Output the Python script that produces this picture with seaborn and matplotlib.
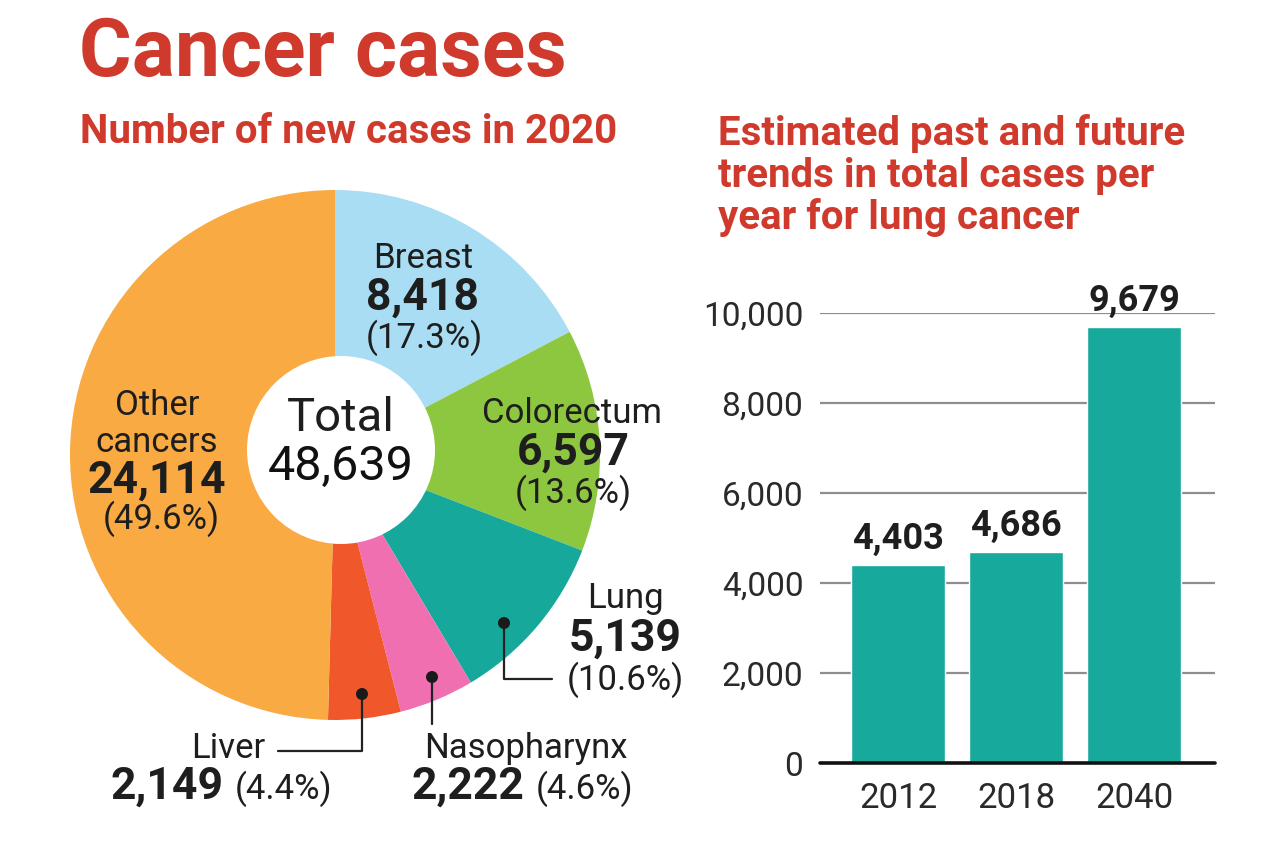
import matplotlib
matplotlib.use("Agg")
import matplotlib.pyplot as plt
from matplotlib.patches import Circle
import seaborn as sns
import pandas as pd

# ---------------- data ----------------
pie_labels = ["Breast", "Colorectum", "Lung", "Nasopharynx", "Liver", "Other cancers"]
pie_values = [8418, 6597, 5139, 2222, 2149, 24114]
pie_pcts = ["17.3%", "13.6%", "10.6%", "4.6%", "4.4%", "49.6%"]
pie_colors = ["#A9DDF3", "#8DC63F", "#16A89B", "#F06FB1", "#F0582B", "#F9AA42"]
total_cases = 48639

bar_years = ["2012", "2018", "2040"]
bar_values = [4403, 4686, 9679]
bar_color = "#17A99B"
y_ticks = [0, 2000, 4000, 6000, 8000, 10000]

title = "Cancer cases"
subtitle_left = "Number of new cases in 2020"
subtitle_right_lines = ["Estimated past and future", "trends in total cases per", "year for lung cancer"]

RED = "#CF3A2C"
DARK = "#1E1E1E"

sns.set_theme(style="white")
plt.rcParams["font.family"] = ["Roboto", "DejaVu Sans"]

W, H = 1280, 848
fig = plt.figure(figsize=(W / 100, H / 100), dpi=100)
fig.patch.set_facecolor("white")

# full-figure axes in pixel coordinates (y up)
ax = fig.add_axes([0, 0, 1, 1])


def Y(y):
    return H - y


# pie
cx, cy, R = 335, 455, 265
ax.pie(pie_values, colors=pie_colors, startangle=90, counterclock=False,
       center=(cx, Y(cy)), radius=R, frame=True,
       wedgeprops=dict(linewidth=0))
ax.set_xlim(0, W)
ax.set_ylim(0, H)
ax.set_aspect("equal")
ax.axis("off")
ax.add_patch(Circle((341, Y(450)), 94, facecolor="white", edgecolor="none", zorder=3))

# titles
ax.text(79, Y(76), title, color=RED, fontsize=58, fontweight="bold", ha="left", va="baseline")
ax.text(80, Y(143), subtitle_left, color=RED, fontsize=29, fontweight="bold", ha="left", va="baseline")
for line, base in zip(subtitle_right_lines, [145, 187, 229]):
    ax.text(718, Y(base), line, color=RED, fontsize=29, fontweight="bold", ha="left", va="baseline")


def fmt(v):
    return f"{v:,}"


REG = 25
BOLD = 32

# Total
ax.text(341, Y(431), "Total", fontsize=34, color=DARK, ha="center", va="baseline", zorder=4)
ax.text(341, Y(480), fmt(total_cases), fontsize=35, color="#111111", ha="center", va="baseline", zorder=4)

# Breast
ax.text(423, Y(268), pie_labels[0], fontsize=REG, color=DARK, ha="center", va="baseline")
ax.text(423, Y(310), fmt(pie_values[0]), fontsize=BOLD, fontweight="bold", color=DARK, ha="center", va="baseline")
ax.text(424, Y(348), f"({pie_pcts[0]})", fontsize=REG, color=DARK, ha="center", va="baseline")

# Colorectum
ax.text(572, Y(423), pie_labels[1], fontsize=REG, color=DARK, ha="center", va="baseline")
ax.text(573, Y(465), fmt(pie_values[1]), fontsize=BOLD, fontweight="bold", color=DARK, ha="center", va="baseline")
ax.text(573, Y(503), f"({pie_pcts[1]})", fontsize=REG, color=DARK, ha="center", va="baseline")

# Other cancers
ax.text(157, Y(415), "Other", fontsize=REG, color=DARK, ha="center", va="baseline")
ax.text(157, Y(452), "cancers", fontsize=REG, color=DARK, ha="center", va="baseline")
ax.text(157, Y(493), fmt(pie_values[5]), fontsize=BOLD, fontweight="bold", color=DARK, ha="center", va="baseline")
ax.text(161, Y(529), f"({pie_pcts[5]})", fontsize=REG, color=DARK, ha="center", va="baseline")

# Lung
ax.text(625, Y(608), pie_labels[2], fontsize=REG, color=DARK, ha="center", va="baseline")
ax.text(625, Y(651), fmt(pie_values[2]), fontsize=BOLD, fontweight="bold", color=DARK, ha="center", va="baseline")
ax.text(625, Y(690), f"({pie_pcts[2]})", fontsize=REG, color=DARK, ha="center", va="baseline")

# Nasopharynx
ax.text(526, Y(758), pie_labels[3], fontsize=REG, color=DARK, ha="center", va="baseline")
ax.text(524, Y(799), fmt(pie_values[3]), fontsize=BOLD, fontweight="bold", color=DARK, ha="right", va="baseline")
ax.text(536, Y(799), f"({pie_pcts[3]})", fontsize=REG, color=DARK, ha="left", va="baseline")

# Liver
ax.text(265, Y(758), pie_labels[4], fontsize=REG, color=DARK, ha="right", va="baseline")
ax.text(223, Y(799), fmt(pie_values[4]), fontsize=BOLD, fontweight="bold", color=DARK, ha="right", va="baseline")
ax.text(235, Y(799), f"({pie_pcts[4]})", fontsize=REG, color=DARK, ha="left", va="baseline")

# leader lines with dots
lc = "#222222"
ax.plot([504, 504, 552], [Y(623), Y(679), Y(679)], color=lc, lw=1.6, zorder=5)
ax.plot([432, 432], [Y(677), Y(724)], color=lc, lw=1.6, zorder=5)
ax.plot([362, 362, 278], [Y(694), Y(751), Y(751)], color=lc, lw=1.6, zorder=5)
for (px, py) in [(504, 623), (432, 677), (362, 694)]:
    ax.add_patch(Circle((px, Y(py)), 6, facecolor="#1A1A1A", edgecolor="none", zorder=6))

# ---------------- bar chart ----------------
bax = fig.add_axes([820 / W, (H - 763) / H, 395 / W, 450 / H])
df = pd.DataFrame({"year": bar_years, "cases": bar_values})
sns.barplot(data=df, x="year", y="cases", color=bar_color, saturation=1, width=0.79,
            ax=bax, zorder=3)
bax.set_xlim(-0.661, 2.686)
bax.set_ylim(0, 10000)
bax.set_yticks(y_ticks)
bax.set_yticklabels([f"{t:,}" for t in y_ticks])
bax.set_xlabel("")
bax.set_ylabel("")
for s in bax.spines.values():
    s.set_visible(False)
for t in y_ticks[1:]:
    bax.axhline(t, color="#8E8E8E", lw=1.6, zorder=1)
bax.axhline(0, color="#111111", lw=2.6, zorder=4, clip_on=False)
bax.tick_params(axis="y", length=0, pad=12, labelsize=24, labelcolor="#2A2A2A")
bax.tick_params(axis="x", length=0, pad=14, labelsize=25, labelcolor="#2A2A2A")
bax.set_facecolor("none")
for i, v in enumerate(bar_values):
    bax.annotate(fmt(v), (i, v), xytext=(0, 6), textcoords="offset points",
                 ha="center", va="bottom", fontsize=26, fontweight="bold", color=DARK,
                 annotation_clip=False)

fig.savefig("out.png", dpi=100, facecolor="white")
